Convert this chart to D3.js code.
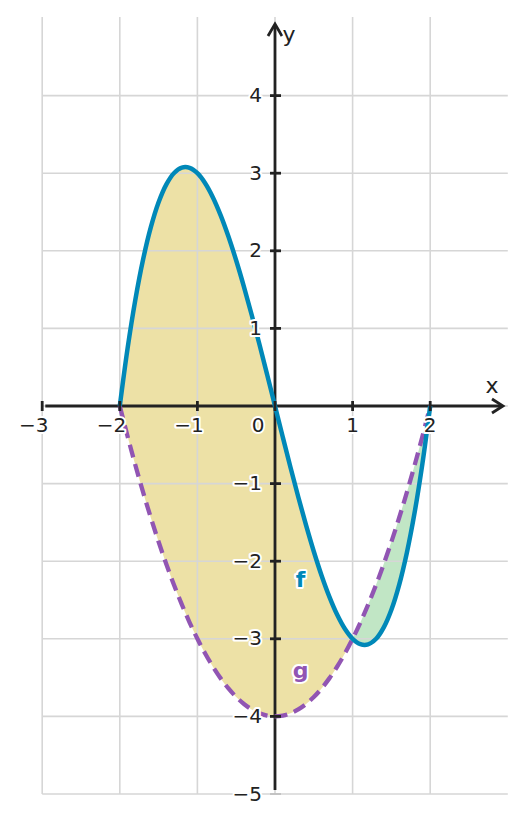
<!DOCTYPE html>
<html><head><meta charset="utf-8">
<script src="https://cdn.jsdelivr.net/npm/d3@7"></script>
<style>html,body{margin:0;padding:0;background:#fff;}svg{display:block;font-family:"DejaVu Sans",sans-serif;}</style>
</head><body><svg id="c" width="526" height="823"></svg>
<script>
// sample x positions
const xs = [-2.0,-1.9,-1.8,-1.7,-1.6,-1.5,-1.4,-1.3,-1.2,-1.1,-1.0,-0.9,-0.8,-0.7,-0.6,-0.5,-0.4,-0.3,-0.2,-0.1,0.0,
  0.1,0.2,0.3,0.4,0.5,0.6,0.7,0.8,0.9,1.0,1.1,1.2,1.3,1.4,1.5,1.6,1.7,1.8,1.9,2.0];
// f values
const fVals = [0,0.741,1.368,1.887,2.304,2.625,2.856,3.003,3.072,3.069,3.0,2.871,2.688,2.457,2.184,1.875,1.536,1.173,0.792,0.399,0,
  -0.399,-0.792,-1.173,-1.536,-1.875,-2.184,-2.457,-2.688,-2.871,-3.0,-3.069,-3.072,-3.003,-2.856,-2.625,-2.304,-1.887,-1.368,-0.741,0];
// g values
const gVals = [0,-0.39,-0.76,-1.11,-1.44,-1.75,-2.04,-2.31,-2.56,-2.79,-3.0,-3.19,-3.36,-3.51,-3.64,-3.75,-3.84,-3.91,-3.96,-3.99,-4.0,
  -3.99,-3.96,-3.91,-3.84,-3.75,-3.64,-3.51,-3.36,-3.19,-3.0,-2.79,-2.56,-2.31,-2.04,-1.75,-1.44,-1.11,-0.76,-0.39,0];
const xTicks = [-3,-2,-1,0,1,2];
const yTicks = [-5,-4,-3,-2,-1,1,2,3,4];
const xGrid = [-3,-2,-1,0,1,2];
const yGrid = [-5,-4,-3,-2,-1,0,1,2,3,4];
const regionSplit = 1.0;

const svg = d3.select("#c");
const x = d3.scaleLinear().domain([-3,3]).range([42.2,507.8]);
const y = d3.scaleLinear().domain([-5,5]).range([794,18]);

const pts = xs.map((v,i)=>({x:v,f:fVals[i],g:gVals[i]}));
const curve = d3.curveCatmullRom;

// fills
const area = d3.area().x(d=>x(d.x)).y0(d=>y(d.g)).y1(d=>y(d.f)).curve(curve);
svg.append("path").datum(pts.filter(d=>d.x<=regionSplit+1e-9)).attr("d",area).attr("fill","#EDE1A6");
svg.append("path").datum(pts.filter(d=>d.x>=regionSplit-1e-9)).attr("d",area).attr("fill","#C1E6C5");

// grid
const gridColor="#d6d6d6";
svg.append("g").selectAll("line").data(xGrid).join("line")
  .attr("x1",d=>x(d)).attr("x2",d=>x(d)).attr("y1",y(5)-1).attr("y2",y(-5))
  .attr("stroke",gridColor).attr("stroke-width",1.6);
svg.append("g").selectAll("line").data(yGrid).join("line")
  .attr("x1",x(-3)).attr("x2",x(3)).attr("y1",d=>y(d)).attr("y2",d=>y(d))
  .attr("stroke",gridColor).attr("stroke-width",1.6);

// axes
const axc="#222";
const xTip = 503, yTip = 24;
svg.append("line").attr("x1",x(-2.96)).attr("x2",xTip-1).attr("y1",y(0)).attr("y2",y(0)).attr("stroke",axc).attr("stroke-width",2.8);
svg.append("line").attr("x1",x(0)).attr("x2",x(0)).attr("y1",y(-4.95)).attr("y2",yTip+1).attr("stroke",axc).attr("stroke-width",2.8);
// arrowheads
svg.append("path").attr("d",`M${xTip-11},${y(0)-7}L${xTip},${y(0)}L${xTip-11},${y(0)+7}`)
  .attr("fill","none").attr("stroke",axc).attr("stroke-width",2.8);
svg.append("path").attr("d",`M${x(0)-7},${yTip+12}L${x(0)},${yTip}L${x(0)+7},${yTip+12}`)
  .attr("fill","none").attr("stroke",axc).attr("stroke-width",2.8);

// curves
const lf = d3.line().x(d=>x(d.x)).y(d=>y(d.f)).curve(curve);
const lg = d3.line().x(d=>x(d.x)).y(d=>y(d.g)).curve(curve);
svg.append("path").datum(pts).attr("d",lg).attr("fill","none").attr("stroke","#9155B3").attr("stroke-width",4.3).attr("stroke-dasharray","13,7");
svg.append("path").datum(pts).attr("d",lf).attr("fill","none").attr("stroke","#0088B8").attr("stroke-width",4.5);

// ticks
svg.append("g").selectAll("line").data(xTicks).join("line")
  .attr("x1",d=>x(d)).attr("x2",d=>x(d)).attr("y1",y(0)-5).attr("y2",y(0)+5).attr("stroke",axc).attr("stroke-width",2.8);
svg.append("g").selectAll("line").data(yTicks).join("line")
  .attr("x1",x(0)-5).attr("x2",x(0)+6).attr("y1",d=>y(d)).attr("y2",d=>y(d))
  .attr("stroke",d=>d===-5?"#bbb":axc).attr("stroke-width",d=>d===-5?1.6:2.8);

const fs = 20;
const fmt = d=> d<0 ? "\u2212"+Math.abs(d) : String(d);
function halo(sel){ sel.attr("stroke","#fff").attr("stroke-width",4).attr("paint-order","stroke").attr("stroke-linejoin","round"); }
// x tick labels: digit centred on the tick, minus sign hangs to the left
svg.append("g").selectAll("text").data(xTicks).join("text")
  .attr("x",d=>d===0?x(0)-17:(d<0?x(d)+0.318*fs:x(d)))
  .attr("y",y(0)+26).attr("text-anchor",d=>d<0?"end":"middle")
  .attr("font-size",fs).attr("fill","#222").text(fmt).call(halo);
svg.append("g").selectAll("text").data(yTicks).join("text")
  .attr("x",x(0)-13).attr("y",d=>y(d)+6.5).attr("text-anchor","end")
  .attr("font-size",fs).attr("fill","#222").text(fmt).call(halo);

svg.append("text").attr("x",492).attr("y",393).attr("text-anchor","middle").attr("font-size",22).attr("fill","#222").text("x").call(halo);
svg.append("text").attr("x",289).attr("y",42).attr("text-anchor","middle").attr("font-size",22).attr("fill","#222").text("y").call(halo);

svg.append("text").attr("x",x(0.33)).attr("y",y(-2.2)+10).attr("text-anchor","middle").attr("font-size",22).attr("font-weight","bold").attr("fill","#0088B8").text("f").call(halo);
svg.append("text").attr("x",x(0.33)).attr("y",y(-3.4)+8).attr("text-anchor","middle").attr("font-size",22).attr("font-weight","bold").attr("fill","#9155B3").text("g").call(halo);
</script></body></html>
